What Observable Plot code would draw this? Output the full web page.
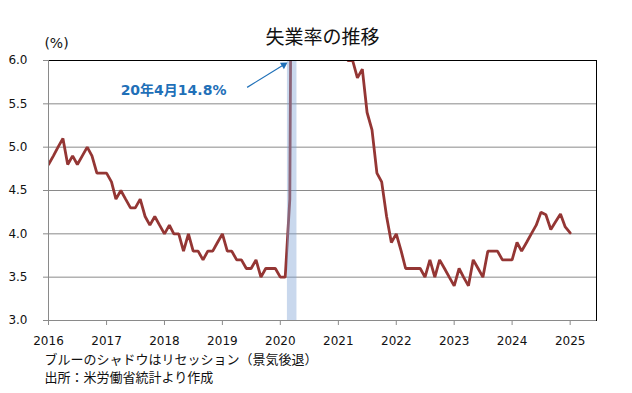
<!DOCTYPE html>
<html>
<head>
<meta charset="utf-8">
<script src="https://cdn.jsdelivr.net/npm/d3@7"></script>
<script src="https://cdn.jsdelivr.net/npm/@observablehq/plot@0.6"></script>
<style>
  body { margin: 0; background: #fff; }
</style>
</head>
<body>
<div id="chart"></div>
<script>
// ---- data (monthly unemployment rate, %) ----
const firstMonth = "2016-01-01";
const rate2016 = [4.8, 4.9, 5.0, 5.1, 4.8, 4.9, 4.8, 4.9, 5.0, 4.9, 4.7, 4.7];
const rate2017 = [4.7, 4.6, 4.4, 4.5, 4.4, 4.3, 4.3, 4.4, 4.2, 4.1, 4.2, 4.1];
const rate2018 = [4.0, 4.1, 4.0, 4.0, 3.8, 4.0, 3.8, 3.8, 3.7, 3.8, 3.8, 3.9];
const rate2019 = [4.0, 3.8, 3.8, 3.7, 3.7, 3.6, 3.6, 3.7, 3.5, 3.6, 3.6, 3.6];
const rate2020 = [3.5, 3.5, 4.4, 14.8, 13.3, 11.1, 10.2, 8.4, 7.9, 6.9, 6.7, 6.7];
const rate2021 = [6.4, 6.2, 6.0, 6.0, 5.8, 5.9, 5.4, 5.2, 4.7, 4.6, 4.2, 3.9];
const rate2022 = [4.0, 3.8, 3.6, 3.6, 3.6, 3.6, 3.5, 3.7, 3.5, 3.7, 3.6, 3.5];
const rate2023 = [3.4, 3.6, 3.5, 3.4, 3.7, 3.6, 3.5, 3.8, 3.8, 3.8, 3.7, 3.7];
const rate2024 = [3.7, 3.9, 3.8, 3.9, 4.0, 4.1, 4.25, 4.22, 4.05, 4.14, 4.23, 4.08];
const rate2025 = [4.01];

const xDomain = ["2016-01-01", "2025-06-16"];
const yearTicks = ["2016", "2017", "2018", "2019", "2020", "2021", "2022", "2023", "2024", "2025"];
const yTicks = [3.0, 3.5, 4.0, 4.5, 5.0, 5.5, 6.0];
const yDomain = [3.0, 6.0];

const recession = [{ start: "2020-02-15", end: "2020-04-15" }];
const peakLabel = [{ date: "2018-02-27", value: 5.65, text: "20年4月14.8%" }];
const peakArrow = [{ x1: "2019-06-06", y1: 5.69, x2: "2020-01-23", y2: 5.95 }];

const titleText = "失業率の推移";
const unitText = "(%)";
const note1 = "ブルーのシャドウはリセッション（景気後退）";
const note2 = "出所：米労働省統計より作成";

// ---- build table ----
const rates = [].concat(rate2016, rate2017, rate2018, rate2019, rate2020,
                        rate2021, rate2022, rate2023, rate2024, rate2025);
const start = new Date(firstMonth);
const series = rates.map((v, i) => ({ date: d3.utcMonth.offset(start, i), rate: v }));
const parse = s => new Date(s);
const rec = recession.map(d => ({ start: parse(d.start), end: parse(d.end) }));
const lab = peakLabel.map(d => ({ ...d, date: parse(d.date) }));
const arr = peakArrow.map(d => ({ ...d, x1: parse(d.x1), x2: parse(d.x2) }));

const gray = "#8a8a8a";
const red = "#943634";
const blue = "#1f70b8";
const cjk = "'Noto Sans CJK JP', sans-serif";

const chart = Plot.plot({
  width: 632,
  height: 393,
  marginLeft: 48,
  marginRight: 36,
  marginTop: 60,
  marginBottom: 73,
  style: { fontFamily: "'DejaVu Sans', 'Noto Sans CJK JP', sans-serif", fontSize: "12px", background: "#fff", color: "#111" },
  x: { type: "utc", domain: xDomain.map(parse) },
  y: { domain: yDomain },
  marks: [
    Plot.gridY(yTicks.filter(t => t > yDomain[0] && t < yDomain[1]), { stroke: gray, strokeOpacity: 1 }),
    Plot.line(series, { x: "date", y: "rate", stroke: red, strokeWidth: 2.8, clip: true, strokeLinejoin: "miter" }),
    Plot.rect(rec, { x1: "start", x2: "end", fill: "#7fa3d3", fillOpacity: 0.42 }),
    Plot.frame({ stroke: "#000" }),
    Plot.ruleX([parse(xDomain[0])], { stroke: gray }),
    Plot.ruleY([yDomain[0]], { stroke: gray }),
    Plot.axisY({ ticks: yTicks, tickFormat: d3.format(".1f"), tickSize: 5, tickPadding: 16, stroke: gray, fill: "#111", fontSize: 12 }),
    Plot.axisX({ ticks: yearTicks.map(y => parse(y + "-01-01")), tickFormat: d3.utcFormat("%Y"), tickSize: 5, tickPadding: 11, stroke: gray, fill: "#111", fontSize: 12 }),
    // annotation
    Plot.text(lab, { x: "date", y: "value", text: "text", fill: blue, fontWeight: "bold", fontSize: 14, textAnchor: "middle" }),
    Plot.link(arr, { x1: "x1", y1: "y1", x2: "x2", y2: "y2", stroke: blue, strokeWidth: 1.2 }),
    Plot.dot(arr, { x: "x2", y: "y2", symbol: "triangle2", r: 3.6, fill: blue, rotate: 58 }),
    // title, unit, notes
    Plot.text([titleText], { frameAnchor: "top", dy: -23, fontSize: 19, fontFamily: cjk, fill: "#111", lineAnchor: "middle" }),
    Plot.text([unitText], { frameAnchor: "top-left", dx: 8, dy: -17, fontSize: 14, textAnchor: "middle", lineAnchor: "middle", fill: "#111" }),
    Plot.text([note1], { frameAnchor: "bottom-left", dx: -4, dy: 39, fontSize: 13, fontFamily: cjk, textAnchor: "start", lineAnchor: "middle", fill: "#111" }),
    Plot.text([note2], { frameAnchor: "bottom-left", dx: -4, dy: 57.5, fontSize: 13, fontFamily: cjk, textAnchor: "start", lineAnchor: "middle", fill: "#111" })
  ]
});
document.getElementById("chart").appendChild(chart);
</script>
</body>
</html>
